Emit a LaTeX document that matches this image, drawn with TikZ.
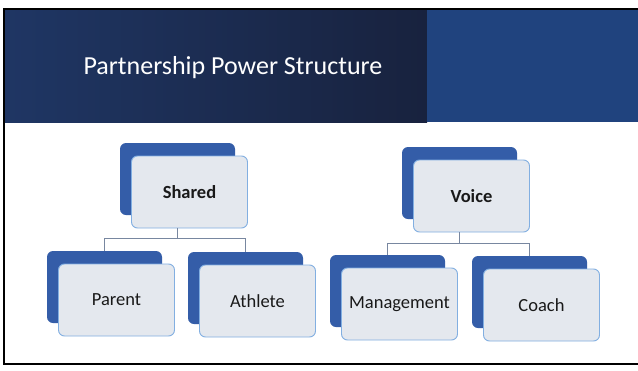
\documentclass[tikz,border=0pt]{standalone}
\usepackage{fontspec}
\setmainfont{Carlito}
\usepackage{tikz}
\usetikzlibrary{calc}
\definecolor{navyleft}{RGB}{31,54,100}
\definecolor{navyright}{RGB}{24,34,62}
\definecolor{steel}{RGB}{32,67,126}
\definecolor{cardblue}{RGB}{52,93,168}
\definecolor{cardface}{RGB}{228,232,238}
\definecolor{cardline}{RGB}{130,175,225}
\definecolor{linkgray}{RGB}{120,135,160}
\tikzset{
	backcard/.style={fill=cardblue, rounded corners=6pt, minimum width=115pt, minimum height=72pt, inner sep=0pt, outer sep=0pt},
	frontcard/.style={fill=cardface, draw=cardline, line width=0.9pt, rounded corners=6pt, minimum width=116pt, minimum height=72pt, inner sep=0pt, outer sep=0pt, text=black!90, font=\fontsize{18.5}{21}\selectfont},
	link/.style={draw=linkgray, line width=0.7pt}
}
\newcommand{\orgbox}[4] % name, x, y of the back card's top left, label
{
	% back card
	\node[backcard] (#1-b) at (#2+57.5,#3+36) {};
	% front card
	\node[frontcard] (#1) at (#2+69.5,#3+49) {#4};
}

\begin{document}
\begin{tikzpicture}[x=1pt, y=-1pt]
	\useasboundingbox (0,0) rectangle (638,370);
	% slide and header band
	\fill[white] (0,0) rectangle (638,370);
	\shade[left color=navyleft, right color=navyright] (4,9) rectangle (427,122);
	\fill[steel] (427,9) rectangle (640,122);
	\draw[black, line width=1.3pt] (640,9) -- (4,9) -- (4,364) -- (640,364);
	\node[anchor=west, text=white, font=\fontsize{26}{30}\selectfont] (title) at (80,68) {Partnership Power Structure};
	
	\orgbox{shared}{120}{143}{\bfseries Shared};
	\orgbox{parent}{47}{251}{Parent};
	\orgbox{athlete}{188}{252}{Athlete};
	
	\orgbox{voice}{402}{147}{\bfseries Voice};
	\orgbox{management}{330}{255}{Management};
	\orgbox{coach}{472}{256}{Coach};
	
	% tree lines
	\draw[link] (shared-b |- shared.south) -- ++(0,10) -| (parent-b.north);
	\draw[link] (shared-b |- shared.south) -- ++(0,10) -| (athlete-b.north);
	\draw[link] (voice-b |- voice.south) -- ++(0,11) -| (management-b.north);
	\draw[link] (voice-b |- voice.south) -- ++(0,11) -| (coach-b.north);
\end{tikzpicture}
\end{document}
